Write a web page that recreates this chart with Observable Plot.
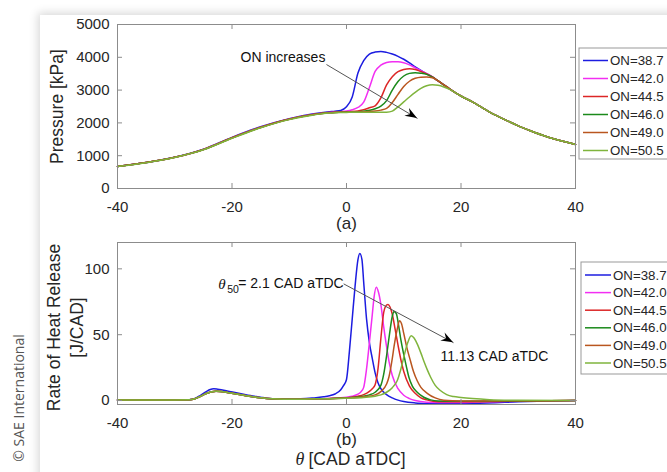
<!DOCTYPE html>
<html><head><meta charset="utf-8">
<script src="https://cdn.jsdelivr.net/npm/d3@7"></script>
<script src="https://cdn.jsdelivr.net/npm/@observablehq/plot@0.6"></script>
<style>
html,body{margin:0;padding:0;background:#fff;}
body{width:667px;height:472px;overflow:hidden;position:relative;font-family:"Liberation Sans",Arial,sans-serif;}
#card{position:absolute;left:40px;top:15px;width:720px;height:520px;background:#fff;box-shadow:0 0 9px 2px rgba(0,0,0,0.16);}
#top,#bot{position:absolute;left:0;width:667px;height:236px;}
#top{top:0}#bot{top:236px}
#copy{position:absolute;left:18px;top:398px;transform:translate(-50%,-50%) rotate(-90deg);white-space:nowrap;font-family:"Open Sans",sans-serif;font-size:14px;color:#555;}
</style></head><body>
<div id="card"></div><div id="copy">© SAE International</div>
<div id="top"></div><div id="bot"></div>
<script>
// ---------- data ----------
const onLabels = ["ON=38.7","ON=42.0","ON=44.5","ON=46.0","ON=49.0","ON=50.5"];
const onColors = ["#1c1ce0","#f22ef2","#dc2626","#1b8a1b","#b9561f","#7fb43c"];
const xTicks = [-40,-20,0,20,40];
const pTicks = [0,1000,2000,3000,4000,5000];
const hrrTicks = [0,50,100];

// pressure [kPa] on a shared crank-angle grid
const thetaP = [-40,-35,-30,-25,-20,-15,-10,-6,-3,-2,-1,0,1,2,3,4,5,6,7,8,9,10,11,12,13,14,15,16,17,18,19,20,22,25,28,30,32,35,38,40];
const pON387 = [670,790,950,1195,1560,1880,2130,2270,2340,2355,2380,2490,2790,3520,3900,4100,4160,4177,4150,4100,4030,3940,3830,3710,3600,3500,3400,3280,3160,3040,2925,2820,2640,2330,2070,1910,1770,1580,1430,1340];
const pON420 = [670,790,950,1190,1550,1870,2120,2255,2320,2330,2340,2360,2400,2470,2630,3080,3570,3760,3840,3865,3868,3835,3770,3680,3590,3500,3400,3280,3160,3040,2925,2820,2640,2330,2070,1910,1770,1580,1430,1340];
const pON445 = [670,790,950,1190,1545,1865,2115,2250,2315,2325,2330,2335,2345,2365,2400,2460,2520,2760,3160,3410,3560,3630,3650,3630,3565,3495,3400,3280,3160,3040,2925,2820,2640,2330,2070,1910,1770,1580,1430,1340];
const pON460 = [670,790,950,1185,1540,1860,2110,2245,2310,2320,2325,2330,2335,2340,2355,2385,2430,2510,2680,3000,3260,3430,3510,3530,3515,3480,3395,3280,3160,3040,2925,2820,2640,2330,2070,1910,1770,1580,1430,1340];
const pON490 = [670,790,950,1185,1540,1860,2110,2245,2310,2318,2323,2328,2330,2333,2338,2345,2360,2390,2440,2620,2870,3110,3270,3360,3395,3400,3375,3280,3160,3040,2925,2820,2640,2330,2070,1910,1770,1580,1430,1340];
const pON505 = [670,785,945,1180,1530,1850,2100,2235,2300,2310,2315,2320,2322,2323,2324,2325,2325,2325,2328,2360,2490,2640,2790,2930,3050,3130,3160,3145,3095,3020,2925,2820,2640,2330,2070,1910,1770,1580,1430,1340];

// rate of heat release [J/CAD] as [theta, value]
const hrrLTHR = [[-40,0.5],[-30,0.5],[-27.5,0.6],[-26.5,1.3],[-25.5,3.2],[-24.5,5.4],[-23.5,6.7],[-22.8,7],[-22,6.8],[-20.5,5.9],[-19,4.8],[-17,3.3],[-15,2.1],[-13,1.3],[-11,1.0],[-8,1.0],[-5,1.3]];
const hrrON387 = [[-40,0.5],[-30,0.5],[-27.5,0.7],[-26.5,1.5],[-25.5,4],[-24.5,6.8],[-23.8,8.4],[-23.2,8.9],[-22.5,8.6],[-21,7.5],[-19.7,6.3],[-18,4.8],[-16.8,3.8],[-15,2.6],[-13.9,1.8],[-12,1.2],[-10,1.1],[-8,1.3],[-6,1.9],[-4,2.8],[-3,3.6],[-2,5],[-1,8.2],[-0.5,11.5],[0,16],[0.5,37],[1,62],[1.5,87],[2,107],[2.33,111.6],[2.7,107],[3,90],[3.5,62],[4,44],[4.5,32],[5,21],[5.5,13.5],[6,9],[7,4.5],[8,2],[9,0.3],[10,-0.8],[12,-1.8],[15,-2.3],[18,-2.5],[22,-2.2],[26,-1.6],[30,-1],[35,-0.4],[40,0]];
const hrrON420 = [[-3,1.6],[-1,2.1],[0,2.6],[1,3.3],[2,4.8],[2.5,6.5],[3,10],[3.5,24],[4,44],[4.5,65],[4.8,78],[5.2,86],[5.6,82],[6,73],[6.5,56],[7,41],[7.5,28],[8,19],[9,9],[10,4],[11,1.5],[12,0],[14,-1.2],[18,-1.5],[24,-1],[30,-0.5],[40,0]];
const hrrON445 = [[-3,1.5],[-1,1.9],[1,2.6],[2,3.3],[3,4.5],[4,7],[4.5,9],[5,12],[5.5,24],[6,47],[6.5,67],[7,72.5],[7.25,73],[7.6,71],[8,65.5],[8.5,54],[9,42],[9.5,31],[10,22],[11,11],[12,5.5],[13,2],[14,0.5],[16,-1],[20,-1],[28,-0.5],[40,0]];
const hrrON460 = [[-3,1.4],[-1,1.8],[1,2.3],[3,3.3],[4,4.3],[5,6.3],[6,11.5],[6.5,20],[7,34],[7.5,50],[8,64],[8.3,67.7],[8.7,66],[9.14,56],[9.5,46],[10,35],[10.5,25],[10.9,17.7],[11.5,11],[12.35,6.3],[13.5,2.5],[14.7,0.5],[16,-0.3],[20,-0.5],[30,-0.3],[40,0]];
const hrrON490 = [[-3,1.4],[-1,1.7],[1,2.1],[3,2.8],[5,4.3],[6,6.8],[7,12.5],[7.4,17.7],[8,32],[8.3,41],[8.85,54],[9.26,60.6],[9.6,58.5],[10,51],[10.5,41],[11.18,30],[11.7,22],[12.35,15],[13,10],[14.1,5.5],[15.5,2],[17,0.3],[20,-0.3],[30,-0.2],[40,0]];
const hrrON505 = [[-3,1.3],[-1,1.6],[1,1.9],[3,2.4],[5,3.3],[6,4.3],[7,6.3],[8,9.8],[8.85,15],[9.5,24],[10,32.8],[10.7,44],[11.3,49.2],[11.8,47.5],[12.35,43],[13,36],[13.5,30],[14.1,23.5],[14.7,17.7],[15.5,11.5],[16.4,7.6],[17.5,4.5],[18.7,3],[20,2.3],[22,1.5],[25,0.7],[30,0.2],[40,0]];

// annotations (data coordinates)
const pNote = [{x:-18.5, y:3990, text:"ON increases"}];
const pArrow = [{x1:-3.5, y1:3780, x2:12.4, y2:2134}];
const hNoteTheta = [{x:-22.4, y:88.6}];
const hNoteStart = [{x:-22.4, y:88.6, text:"= 2.1 CAD aTDC"}];
const hNoteEnd = [{x:16.4, y:33.3, text:"11.13 CAD aTDC"}];
const hArrow = [{x1:-0.5, y1:88.6, x2:18.7, y2:43.9}];

// ---------- build tables ----------
const pSeries = [pON387,pON420,pON445,pON460,pON490,pON505];
const pRows = [];
onLabels.forEach((s,i)=>thetaP.forEach((t,j)=>pRows.push({theta:t, value:pSeries[i][j], series:s})));
const hSeries = [hrrON387, hrrLTHR.concat(hrrON420), hrrLTHR.concat(hrrON445), hrrLTHR.concat(hrrON460), hrrLTHR.concat(hrrON490), hrrLTHR.concat(hrrON505)];
const hRows = [];
onLabels.forEach((s,i)=>hSeries[i].forEach(([t,v])=>hRows.push({theta:t, value:v, series:s})));

const FONT = "'Liberation Sans', Arial, sans-serif";
const SERIF = "'Liberation Serif', 'Times New Roman', serif";
const AX = "#8c8c8c";
const TXT = "#262626";
const fmt = d => String(d);

function frameMarks(yTicks, fh, fw) {
  return [
    Plot.frame({stroke: AX}),
    Plot.ruleX(xTicks, {x: d=>d, insetTop: fh-5, stroke: AX}),
    Plot.ruleX(xTicks, {x: d=>d, insetBottom: fh-5, stroke: AX}),
    Plot.ruleY(yTicks, {y: d=>d, insetRight: fw-5, stroke: AX}),
    Plot.ruleY(yTicks, {y: d=>d, insetLeft: fw-5, stroke: AX}),
    Plot.axisX({ticks: xTicks, tickSize: 0, tickPadding: 13, tickFormat: fmt, label: null, fontSize: 15}),
    Plot.axisY({ticks: yTicks, tickSize: 0, tickPadding: 8, tickFormat: fmt, label: null, fontSize: 15})
  ];
}

function addHead(plot, a) {
  const sx = plot.scale("x"), sy = plot.scale("y");
  const ax = sx.apply(a.x1), ay = sy.apply(a.y1), bx = sx.apply(a.x2), by = sy.apply(a.y2);
  const ang = Math.atan2(by-ay, bx-ax), L = 12, Wd = 4.5, N = 8;
  const pts = [[0,0],[-L,-Wd],[-N,0],[-L,Wd]].map(([u,v]) => [bx + u*Math.cos(ang) - v*Math.sin(ang), by + u*Math.sin(ang) + v*Math.cos(ang)]);
  d3.select(plot).append("polygon").attr("points", pts.map(p=>p.map(c=>c.toFixed(2)).join(",")).join(" ")).attr("fill", "#000");
}

function addLegend(plot, x0, y0, boxH, row0, rowH, lx0, lx1, tx) {
  const g = d3.select(plot).append("g").attr("text-anchor", "start");
  g.append("rect").attr("x", x0).attr("y", y0).attr("width", 110).attr("height", boxH)
    .attr("fill", "#fff").attr("stroke", "#999").attr("stroke-width", 1);
  onLabels.forEach((s,i) => {
    const y = row0 + rowH*i;
    g.append("line").attr("x1", lx0).attr("x2", lx1).attr("y1", y).attr("y2", y).attr("stroke", onColors[i]).attr("stroke-width", 1.5);
    g.append("text").attr("x", tx).attr("y", y).attr("dy", "0.35em").attr("fill", TXT).attr("text-anchor", "start")
      .style("font", `13.3px ${FONT}`).text(s);
  });
}

const style = {background: "transparent", fontFamily: FONT, fontSize: "15px", color: TXT, overflow: "visible"};
const lbl = {fontSize: 17.5, fill: TXT, textAnchor: "middle", lineAnchor: "middle"};

// ---------- top: pressure ----------
const topPlot = Plot.plot({
  width: 667, height: 236, marginLeft: 117, marginRight: 92, marginTop: 24, marginBottom: 48,
  style,
  x: {domain: [-40, 40]},
  y: {domain: [0, 5000]},
  color: {domain: onLabels, range: onColors},
  marks: [
    Plot.line(pRows, {x: "theta", y: "value", stroke: "series", z: "series", curve: "monotone-x", strokeWidth: 1.5}),
    ...frameMarks(pTicks, 164, 458),
    Plot.text(["Pressure [kPa]"], {...lbl, frameAnchor: "left", dx: -60, rotate: -90}),
    Plot.text(["(a)"], {...lbl, fontSize: 17, frameAnchor: "bottom", dy: 35}),
    Plot.link(pArrow, {x1: "x1", y1: "y1", x2: "x2", y2: "y2", stroke: "#555", strokeWidth: 1}),
    Plot.text(pNote, {x: "x", y: "y", text: "text", textAnchor: "start", lineAnchor: "middle", fontSize: 14, fill: "#111"})
  ]
});
addHead(topPlot, pArrow[0]);
addLegend(topPlot, 579, 48, 111, 60.5, 18, 583, 608, 610);
document.getElementById("top").appendChild(topPlot);

// ---------- bottom: rate of heat release ----------
const botPlot = Plot.plot({
  width: 667, height: 236, marginLeft: 117, marginRight: 92, marginTop: 6, marginBottom: 68,
  style,
  x: {domain: [-40, 40]},
  y: {domain: [-3, 120]},
  color: {domain: onLabels, range: onColors},
  marks: [
    Plot.line(hRows, {x: "theta", y: "value", stroke: "series", z: "series", curve: "monotone-x", strokeWidth: 1.5}),
    ...frameMarks(hrrTicks, 162, 458),
    Plot.text(["Rate of Heat Release"], {...lbl, frameAnchor: "left", dx: -63, dy: 4, rotate: -90}),
    Plot.text(["[J/CAD]"], {...lbl, frameAnchor: "left", dx: -40, dy: 4, rotate: -90}),
    Plot.text(["(b)"], {...lbl, fontSize: 17, frameAnchor: "bottom", dy: 35}),
    Plot.text(["θ"], {...lbl, frameAnchor: "bottom", dx: -51, dy: 55, textAnchor: "start", fontSize: 18, fontStyle: "italic", fontFamily: SERIF}),
    Plot.text(["[CAD aTDC]"], {...lbl, frameAnchor: "bottom", dx: -38, dy: 55, textAnchor: "start"}),
    Plot.link(hArrow, {x1: "x1", y1: "y1", x2: "x2", y2: "y2", stroke: "#555", strokeWidth: 1}),
    Plot.text(hNoteTheta, {x: "x", y: "y", text: d => "θ", textAnchor: "start", lineAnchor: "middle", fontSize: 15, fontStyle: "italic", fontFamily: SERIF, fill: "#111"}),
    Plot.text(hNoteTheta, {x: "x", y: "y", text: d => "50", dx: 9, dy: 6, textAnchor: "start", lineAnchor: "middle", fontSize: 10.5, fill: "#111"}),
    Plot.text(hNoteStart, {x: "x", y: "y", text: "text", dx: 20, textAnchor: "start", lineAnchor: "middle", fontSize: 14, fill: "#111"}),
    Plot.text(hNoteEnd, {x: "x", y: "y", text: "text", textAnchor: "start", lineAnchor: "middle", fontSize: 14, fill: "#111"})
  ]
});
addHead(botPlot, hArrow[0]);
addLegend(botPlot, 581, 26, 112, 39, 17.6, 585, 611, 613);
document.getElementById("bot").appendChild(botPlot);
</script></body></html>
